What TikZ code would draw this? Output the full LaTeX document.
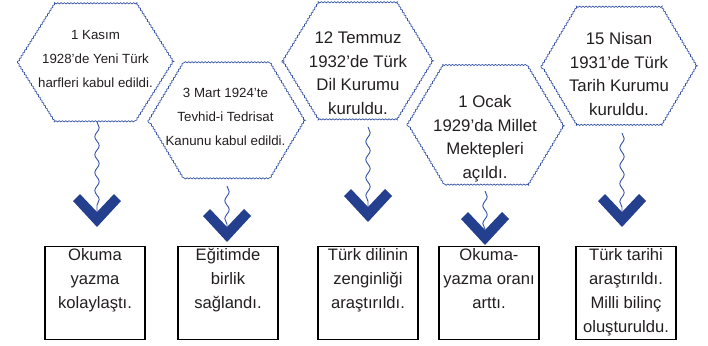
\documentclass[tikz,border=0pt]{standalone}
\usepackage{fontspec}
\setmainfont{Liberation Sans}
\usetikzlibrary{decorations.pathmorphing,calc}
\definecolor{navy}{HTML}{243F8E}
\definecolor{wave}{HTML}{3553A6}
\definecolor{txt}{HTML}{231F20}
\newcommand\drawhex[2]{%
  \draw[hexline] (#1.west) -- ($(#1.north)+(-#2,0)$) -- ($(#1.north)+(#2,0)$) -- (#1.east)
    -- ($(#1.south)+(#2,0)$) -- ($(#1.south)+(-#2,0)$) -- cycle;}
\newcommand\chevronat[1]{%
  \fill[navy] (#1) -- ++(-24,-26) -- ++(7,-7) -- ++(17,18) -- ++(17,-18) -- ++(7,7) -- cycle;}
\begin{document}
\begin{tikzpicture}[x=1pt,y=-1pt,
  hexbox/.style={minimum width=156pt, minimum height=119pt, inner sep=0pt, outer sep=0pt},
  hexline/.style={draw=wave, line width=0.7pt, decorate,
    decoration={snake, amplitude=0.6pt, segment length=3.3pt}},
  wavy/.style={draw=wave, line width=0.9pt, decorate,
    decoration={snake, amplitude=2.2pt, segment length=18pt}},
  small/.style={font=\fontsize{13.3}{24}\selectfont, align=center, text=txt, inner sep=0pt},
  big/.style={font=\fontsize{16.8}{23.5}\selectfont, align=center, text=txt, inner sep=0pt},
  resbox/.style={draw=black, line width=1.3pt, minimum width=100pt, minimum height=93pt,
    inner sep=0pt, anchor=north, text=txt, font=\fontsize{16.6}{24}\selectfont}
]
\useasboundingbox (0,0) rectangle (708,345);

% hexagons
\node[hexbox] (h1) at (95.5,62.5) {};
\node[hexbox, minimum width=155pt, minimum height=117pt] (h2) at (225.5,121.5) {};
\node[hexbox, minimum width=152pt, minimum height=118pt] (h3) at (358,62) {};
\node[hexbox, minimum height=120pt] (h4) at (485,125) {};
\node[hexbox, minimum height=120pt] (h5) at (619,67) {};
\drawhex{h1}{40.5}
\drawhex{h2}{42.5}
\drawhex{h3}{40}
\drawhex{h4}{42}
\drawhex{h5}{42.5}

% hexagon texts
\node[small] (t1) at (95.5,59) {1 Kasım\\1928’de Yeni Türk\\harfleri kabul edildi.};
\node[small] (t2) at (225.5,116.5) {3 Mart 1924’te\\Tevhid-i Tedrisat\\Kanunu kabul edildi.};
\node[big] (t3) at (358,73) {12 Temmuz\\1932’de Türk\\Dil Kurumu\\kuruldu.};
\node[big] (t4) at (485,138.5) {1 Ocak\\1929’da Millet\\Mektepleri\\açıldı.};
\node[big] (t5) at (619,74) {15 Nisan\\1931’de Türk\\Tarih Kurumu\\kuruldu.};

% chevrons
\coordinate (c1) at (97,227);
\coordinate (c2) at (227,242);
\coordinate (c3) at (368,222);
\coordinate (c4) at (485,245);
\coordinate (c5) at (622,227);
\chevronat{c1}
\chevronat{c2}
\chevronat{c3}
\chevronat{c4}
\chevronat{c5}

% wavy connectors
\draw[wavy] (c1|-h1.south) -- ($(c1)+(0,-16)$);
\draw[wavy] ($(c2|-h2.south)+(0,6)$) -- ($(c2)+(0,-16)$);
\draw[wavy] ($(c3|-h3.south)+(0,6)$) -- ($(c3)+(0,-16)$);
\draw[wavy] ($(c4|-h4.south)+(0,6)$) -- ($(c4)+(0,-14)$);
\draw[wavy] ($(c5|-h5.south)+(0,6)$) -- ($(c5)+(0,-16)$);

% result boxes
\node[resbox] (b1) at (95,246) {\parbox[t][93pt][t]{98pt}{\centering\rule{0pt}{14pt}Okuma\\yazma\\kolaylaştı.}};
\node[resbox] (b2) at (228,246) {\parbox[t][93pt][t]{98pt}{\centering\rule{0pt}{14pt}Eğitimde\\birlik\\sağlandı.}};
\node[resbox] (b3) at (368,246) {\parbox[t][93pt][t]{98pt}{\centering\rule{0pt}{14pt}Türk dilinin\\zenginliği\\araştırıldı.}};
\node[resbox] (b4) at (489,246) {\parbox[t][93pt][t]{98pt}{\centering\rule{0pt}{14pt}Okuma-\\yazma oranı\\arttı.}};
\node[resbox] (b5) at (626,246) {\parbox[t][93pt][t]{98pt}{\centering\rule{0pt}{14pt}Türk tarihi\\araştırıldı.\\Milli bilinç\\oluşturuldu.}};
\end{tikzpicture}
\end{document}
